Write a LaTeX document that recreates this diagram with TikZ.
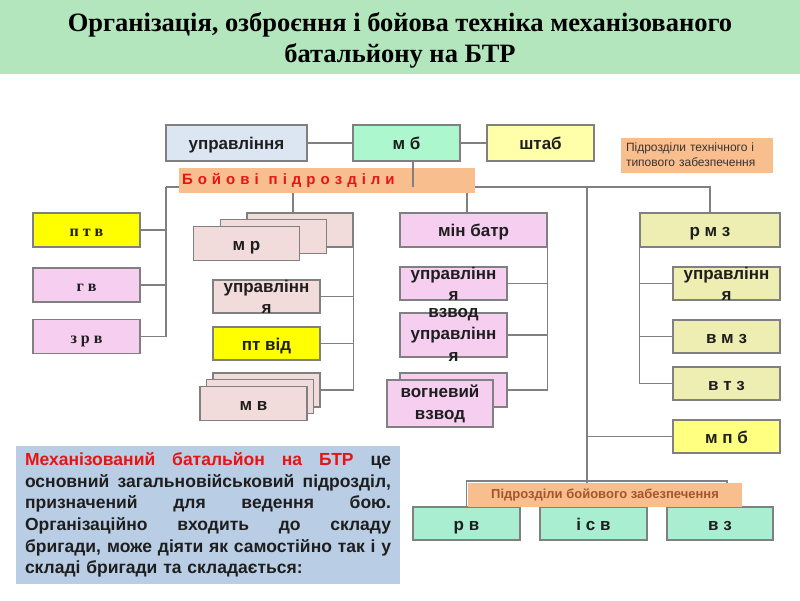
\documentclass[tikz,border=0pt]{standalone}
\usepackage{fontspec}
\setmainfont{Liberation Serif}
\setsansfont{Liberation Sans}
\definecolor{titlegreen}{RGB}{180,230,190}
\definecolor{bluegray}{RGB}{220,230,242}
\definecolor{mint}{RGB}{172,247,206}
\definecolor{paleyellow}{RGB}{255,255,170}
\definecolor{orangebar}{RGB}{248,190,142}
\definecolor{pinkbox}{RGB}{245,206,240}
\definecolor{rosebox}{RGB}{242,220,219}
\definecolor{khaki}{RGB}{238,238,178}
\definecolor{yelbox}{RGB}{255,255,0}
\definecolor{mpbyel}{RGB}{255,255,128}
\definecolor{mintb}{RGB}{170,238,210}
\definecolor{descblue}{RGB}{185,205,229}
\definecolor{edge}{RGB}{128,128,128}
\definecolor{txt}{RGB}{30,30,30}
\definecolor{boldred}{RGB}{232,20,20}
\definecolor{notegray}{RGB}{60,50,45}
\definecolor{brownish}{RGB}{165,85,45}
\newcommand\jline[1]{\leavevmode\hbox to 366pt{\spaceskip=0.28em plus 1fil\relax #1}}

\begin{document}
\begin{tikzpicture}[x=1pt,y=-1pt,every node/.style={inner sep=0pt},
box/.style={draw=edge,line width=1.1pt,minimum width=107pt,minimum height=33pt,text height=13pt,text depth=0pt,text=txt,font=\sffamily\bfseries\fontsize{17}{20}\selectfont},
ser/.style={box,minimum height=34pt,font=\bfseries\fontsize{16}{19}\selectfont},
lbl/.style={align=center,text=txt,font=\sffamily\bfseries\fontsize{17}{21}\selectfont},
ln/.style={draw=edge,line width=1.3pt}]
\useasboundingbox (0,0) rectangle (800,600);
\fill[titlegreen] (0,0) rectangle (800,74);
\node[anchor=base,font=\bfseries\fontsize{26.5}{30}\selectfont] (title1) at (400,31) {Організація, озброєння і бойова техніка механізованого};
\node[anchor=base,font=\bfseries\fontsize{26.5}{30}\selectfont] (title2) at (400,62) {батальйону на БТР};

\node[box,minimum width=141pt,minimum height=36pt,fill=bluegray] (upr) at (236.5,143) {управління};
\node[box,minimum height=36pt,fill=mint] (mb) at (406.5,143) {м б};
\node[box,minimum height=36pt,fill=paleyellow] (shtab) at (540.5,143) {штаб};
\node[fill=orangebar,minimum width=152pt,minimum height=35pt,text width=142pt,align=left,text=notegray,font=\sffamily\fontsize{12}{15}\selectfont] (note) at (697,155) {Підрозділи технічного і\\типового забезпечення};

\node[ser,fill=yelbox] (ptv) at (86.5,230) {п т в};
\node[ser,fill=pinkbox] (gv) at (86.5,285) {г в};
\node[ser,fill=pinkbox] (zrv) at (86.5,336.5) {з р в};

\node[box,minimum width=106pt,minimum height=34pt,fill=rosebox] (mr3) at (300,230) {};
\node[box,minimum width=106pt,minimum height=34pt,fill=rosebox] (mr2) at (273.5,236.5) {};
\node[box,minimum width=106pt,minimum height=34pt,fill=rosebox] (mr1) at (246.5,243.5) {м р};
\node[box,fill=rosebox] (upr2) at (266.5,296.5) {};
\node[lbl] (upr2t) at (upr2) {управлінн\\я};
\node[box,fill=yelbox] (ptvid) at (266.5,343.5) {пт від};
\node[box,minimum height=34pt,fill=rosebox] (mv3) at (266.5,390) {};
\node[box,minimum height=34pt,fill=rosebox] (mv2) at (260,396.5) {};
\node[box,minimum height=34pt,fill=rosebox] (mv1) at (253.5,403.5) {м в};

\node[box,minimum width=147pt,minimum height=34pt,fill=pinkbox] (minb) at (473.5,230) {мін батр};
\node[box,fill=pinkbox] (upr3) at (453.5,283.5) {};
\node[lbl] (upr3t) at (upr3) {управлінн\\я};
\node[box,minimum height=44pt,fill=pinkbox] (vzu) at (453.5,335) {};
\node[lbl,font=\sffamily\bfseries\fontsize{17}{22}\selectfont] (vzut) at (vzu) {взвод\\управлінн\\я};
\node[box,minimum height=34pt,fill=pinkbox] (vog2) at (453.5,390) {};
\node[box,minimum width=106pt,minimum height=47pt,fill=pinkbox] (vog1) at (440,403.5) {};
\node[lbl,font=\sffamily\bfseries\fontsize{17}{22}\selectfont] (vog1t) at (vog1) {вогневий\\взвод};

\node[box,minimum width=140pt,minimum height=34pt,fill=khaki] (rmz) at (710,230) {р м з};
\node[box,fill=khaki] (upr4) at (726.5,283.5) {};
\node[lbl] (upr4t) at (upr4) {управлінн\\я};
\node[box,fill=khaki] (vmz) at (726.5,336.5) {в м з};
\node[box,fill=khaki] (vtz) at (726.5,383.5) {в т з};
\node[box,fill=mpbyel] (mpb) at (726.5,436.5) {м п б};

\node[box,fill=mintb] (rv) at (466.5,523.5) {р в};
\node[box,fill=mintb] (isv) at (593.5,523.5) {і с в};
\node[box,minimum width=106pt,fill=mintb] (vz) at (720,523.5) {в з};

\node[fill=descblue,minimum width=384pt,minimum height=138pt,text width=366pt,align=left,text=txt,font=\sffamily\bfseries\fontsize{17.5}{21.6}\selectfont] (desc) at (208,515) {\jline{\textcolor{boldred}{Механізований батальйон на БТР} це}\\
\jline{основний загальновійськовий підрозділ,}\\
\jline{призначений для ведення бою.}\\
\jline{Організаційно входить до складу}\\
\jline{бригади, може діяти як самостійно так і у}\\
складі бригади та складається:};

\draw[ln] (upr) -- (mb);
\draw[ln] (mb) -- (shtab);
\coordinate (busL) at (166,187);
\coordinate (busM) at (587,187);
\coordinate (brk) at (587,481);
\draw[ln] (busL) -- (busL -| rmz.north) -- (rmz.north);
\foreach \n in {ptv,gv,zrv}{
\draw[ln] (busL) |- (\n);}
\draw[ln] ([xshift=-7pt]mr3.north) -- ([xshift=-7pt]mr3.north |- busL);
\foreach \n in {upr2,ptvid,mv3}{
\draw[ln] (mr3.south east) |- (\n);}
\draw[ln] ([xshift=-6.5pt]minb.north) -- ([xshift=-6.5pt]minb.north |- busL);
\foreach \n in {upr3,vzu,vog2}{
\draw[ln] (minb.south east) |- (\n);}
\foreach \n in {upr4,vmz,vtz}{
\draw[ln] (rmz.south west) |- (\n);}
\draw[ln] (busM) -- (brk);
\draw[ln] (busM |- mpb) -- (mpb);
\draw[ln] (rv.north) |- (brk) -| ([xshift=7pt]vz.north);
\draw[ln] (brk) -- (brk |- isv.north);

\node[fill=orangebar,minimum width=296pt,minimum height=25pt,text width=290pt,align=left,text=boldred,font=\sffamily\bfseries\fontsize{15}{17}\selectfont] (boj) at (327,180.5) {Б о й о в і \ п і д р о з д і л и};
\node[fill=orangebar,minimum width=274pt,minimum height=24pt,text=brownish,font=\sffamily\bfseries\fontsize{13}{15}\selectfont] (zab) at (605,495) {Підрозділи бойового забезпечення};
\draw[ln] ([xshift=6.5pt]mb.south) -- ++(0,25);
\end{tikzpicture}
\end{document}
